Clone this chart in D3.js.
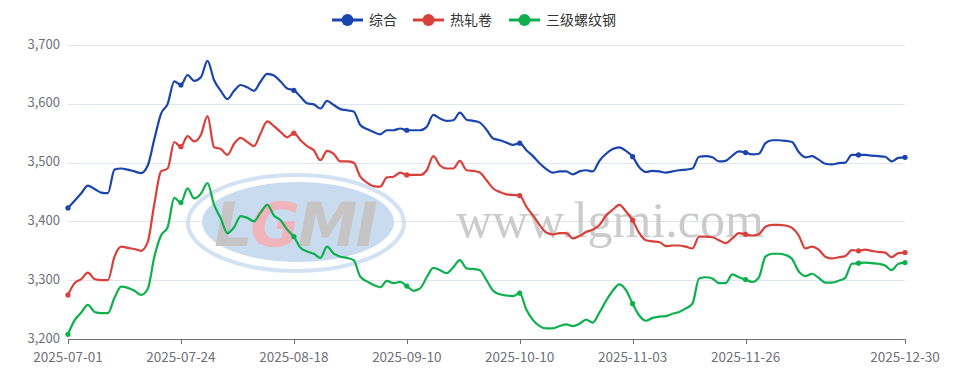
<!DOCTYPE html>
<html><head><meta charset="utf-8">
<script src="https://cdn.jsdelivr.net/npm/d3@7/dist/d3.min.js"></script>
<style>
html,body{margin:0;padding:0;background:#fff;}
svg{display:block;font-family:"Noto Sans CJK SC","Noto Sans",sans-serif;}
</style></head>
<body>
<svg id="chart" width="957" height="369"></svg>
<script>
const dates = [
"2025-07-01","2025-07-02","2025-07-03","2025-07-04","2025-07-07","2025-07-08","2025-07-09","2025-07-10","2025-07-11",
"2025-07-14","2025-07-15","2025-07-16","2025-07-17","2025-07-18","2025-07-21","2025-07-22","2025-07-23","2025-07-24",
"2025-07-25","2025-07-28","2025-07-29","2025-07-30","2025-07-31","2025-08-01","2025-08-04","2025-08-05","2025-08-06",
"2025-08-07","2025-08-08","2025-08-11","2025-08-12","2025-08-13","2025-08-14","2025-08-15","2025-08-18","2025-08-19",
"2025-08-20","2025-08-21","2025-08-22","2025-08-25","2025-08-26","2025-08-27","2025-08-28","2025-08-29","2025-09-01",
"2025-09-02","2025-09-03","2025-09-04","2025-09-05","2025-09-08","2025-09-09","2025-09-10","2025-09-11","2025-09-12",
"2025-09-15","2025-09-16","2025-09-17","2025-09-18","2025-09-19","2025-09-22","2025-09-23","2025-09-24","2025-09-25",
"2025-09-26","2025-09-28","2025-09-29","2025-09-30","2025-10-09","2025-10-10","2025-10-11","2025-10-13","2025-10-14",
"2025-10-15","2025-10-16","2025-10-17","2025-10-20","2025-10-21","2025-10-22","2025-10-23","2025-10-24","2025-10-27",
"2025-10-28","2025-10-29","2025-10-30","2025-10-31","2025-11-03","2025-11-04","2025-11-05","2025-11-06","2025-11-07",
"2025-11-10","2025-11-11","2025-11-12","2025-11-13","2025-11-14","2025-11-17","2025-11-18","2025-11-19","2025-11-20",
"2025-11-21","2025-11-24","2025-11-25","2025-11-26","2025-11-27","2025-11-28","2025-12-01","2025-12-02","2025-12-03",
"2025-12-04","2025-12-05","2025-12-08","2025-12-09","2025-12-10","2025-12-11","2025-12-12","2025-12-15","2025-12-16",
"2025-12-17","2025-12-18","2025-12-19","2025-12-22","2025-12-23","2025-12-24","2025-12-25","2025-12-26","2025-12-29",
"2025-12-30"];

const composite = [
3423,3435,3448,3461,3455,3449,3448,3488,3490,3488,3485,3482,3495,3540,3583,3600,3638,3632,
3649,3639,3645,3673,3640,3622,3608,3622,3632,3628,3622,3638,3651,3648,3638,3626,3623,
3612,3601,3599,3592,3605,3598,3591,3589,3587,3564,3557,3552,3548,3555,3555,3558,3555,
3555,3555,3561,3581,3575,3571,3572,3585,3573,3571,3568,3556,3541,3538,3534,3530,3533,
3521,3511,3499,3489,3483,3485,3485,3480,3485,3487,3485,3503,3515,3523,3526,3520,3510,
3492,3484,3486,3485,3483,3485,3487,3488,3490,3510,3511,3509,3502,3503,3512,3519,3517,
3514,3515,3533,3538,3538,3537,3535,3518,3509,3511,3505,3498,3497,3499,3500,3513,3513,
3513,3512,3511,3510,3502,3508,3509];

const hotRolled = [
3275,3295,3302,3313,3302,3300,3300,3340,3357,3355,3353,3350,3365,3430,3485,3490,3535,3527,
3545,3536,3547,3579,3526,3523,3513,3532,3542,3535,3528,3550,3570,3562,3552,3543,3550,
3538,3528,3521,3504,3520,3515,3502,3502,3500,3476,3466,3460,3459,3475,3476,3483,3479,
3479,3479,3487,3511,3495,3490,3490,3503,3487,3486,3483,3470,3456,3450,3446,3445,3444,
3425,3410,3394,3381,3378,3380,3380,3371,3375,3382,3386,3394,3410,3420,3428,3417,3402,
3380,3368,3366,3365,3358,3359,3359,3357,3354,3374,3374,3373,3368,3363,3371,3380,3378,
3376,3378,3391,3394,3394,3393,3389,3376,3354,3357,3352,3340,3337,3339,3341,3351,3350,
3352,3350,3348,3347,3339,3346,3347];

const rebar = [
3208,3232,3245,3258,3246,3244,3244,3270,3289,3287,3282,3275,3285,3340,3376,3390,3440,3432,
3456,3439,3447,3465,3428,3405,3380,3390,3409,3406,3400,3415,3428,3410,3402,3386,3374,
3355,3349,3345,3338,3357,3345,3340,3338,3334,3306,3298,3292,3288,3299,3295,3297,3290,
3282,3286,3305,3321,3317,3312,3322,3334,3320,3319,3317,3300,3282,3276,3274,3273,3278,
3250,3232,3222,3218,3218,3222,3225,3222,3226,3233,3228,3245,3265,3282,3293,3283,3260,
3240,3231,3236,3238,3239,3243,3246,3252,3260,3303,3305,3303,3295,3295,3310,3305,3301,
3297,3305,3340,3345,3345,3343,3336,3315,3307,3311,3304,3296,3296,3299,3304,3328,3329,
3330,3329,3328,3325,3317,3328,3330];

const seriesNames = ["综合","热轧卷","三级螺纹钢"];
const seriesColors = ["#1a45ad","#d8403a","#0db04c"];
const yTicks = [3200,3300,3400,3500,3600,3700];
const xTickLabels = ["2025-07-01","2025-07-24","2025-08-18","2025-09-10","2025-10-10","2025-11-03","2025-11-26","2025-12-30"];
const watermarkLogo = "LGMI";
const watermarkSite = "www.lgmi.com";

const seriesData = [composite, hotRolled, rebar];

const svg = d3.select("#chart");
const W = 957, H = 369;
const m = {l:68, r:52, t:45, b:30};

const x = d3.scalePoint().domain(dates).range([m.l, W - m.r]);
const y = d3.scaleLinear().domain([3200, 3700]).range([H - m.b, m.t]);

// grid
svg.append("g").selectAll("line").data(yTicks.filter(d => d !== 3200)).join("line")
  .attr("x1", m.l).attr("x2", W - m.r)
  .attr("y1", d => Math.round(y(d)) + 0.5).attr("y2", d => Math.round(y(d)) + 0.5)
  .attr("stroke", "#e0e6f1").attr("stroke-width", 1);

// y axis labels
svg.append("g").selectAll("text").data(yTicks).join("text")
  .attr("x", m.l - 8).attr("y", d => y(d) - 1).attr("dy", "0.35em")
  .attr("text-anchor", "end").attr("font-size", 13).attr("fill", "#6e7079")
  .text(d => d3.format(",")(d));

// watermark
const wm = svg.append("g").attr("class", "watermark");
wm.append("ellipse").attr("cx", 296).attr("cy", 223).attr("rx", 108).attr("ry", 48)
  .attr("fill", "none").attr("stroke", "#d3e2f2").attr("stroke-width", 4);
wm.append("ellipse").attr("cx", 298).attr("cy", 222).attr("rx", 96).attr("ry", 40)
  .attr("fill", "#c8dbef");
wm.append("text").attr("x", 295).attr("y", 246).attr("text-anchor", "middle")
  .attr("font-family", "'DejaVu Sans', sans-serif").attr("font-weight", "bold")
  .attr("font-size", 60).attr("font-style", "italic").attr("letter-spacing", -2)
  .selectAll("tspan").data(watermarkLogo.split("")).join("tspan")
  .attr("fill", (d, i) => i === 1 ? "#f2b4bb" : "#c6c4c4")
  .text(d => d);
wm.append("text").attr("x", 610).attr("y", 237).attr("text-anchor", "middle")
  .attr("font-family", "'Liberation Serif', serif")
  .attr("font-size", 50).attr("fill", "#cbcbcb")
  .text(watermarkSite);

// x axis
const labelIdx = xTickLabels.map(d => dates.indexOf(d));
const dotIdx = dates.map((d, i) => i).filter(i => i % 17 === 0 || i === dates.length - 1);
const xa = svg.append("g");
xa.append("line").attr("x1", m.l).attr("x2", W - m.r)
  .attr("y1", H - m.b + 0.5).attr("y2", H - m.b + 0.5)
  .attr("stroke", "#6e7079").attr("stroke-width", 1);
xa.selectAll("line.tick").data(labelIdx).join("line").attr("class", "tick")
  .attr("x1", i => Math.round(x(dates[i])) + 0.5).attr("x2", i => Math.round(x(dates[i])) + 0.5)
  .attr("y1", H - m.b).attr("y2", H - m.b + 5)
  .attr("stroke", "#6e7079");
xa.selectAll("text").data(labelIdx).join("text")
  .attr("x", i => x(dates[i])).attr("y", H - m.b + 18).attr("dy", "0.35em")
  .attr("text-anchor", "middle").attr("font-size", 13.5).attr("fill", "#6e7079")
  .text(i => dates[i]);

// lines
const line = d3.line().x((d, i) => x(dates[i])).y(d => y(d)).curve(d3.curveMonotoneX);
seriesData.forEach((s, k) => {
  svg.append("path").datum(s).attr("d", line)
    .attr("fill", "none").attr("stroke", seriesColors[k]).attr("stroke-width", 2.2)
    .attr("stroke-linejoin", "round");
  svg.append("g").selectAll("circle").data(dotIdx).join("circle")
    .attr("cx", i => x(dates[i])).attr("cy", i => y(s[i])).attr("r", 2.6)
    .attr("fill", seriesColors[k]);
});

// legend
const legendX = [332, 413, 509];
const lg = svg.append("g");
seriesNames.forEach((n, k) => {
  const g = lg.append("g").attr("transform", `translate(${legendX[k]},20)`);
  g.append("line").attr("x1", 0).attr("x2", 31).attr("y1", 0).attr("y2", 0)
    .attr("stroke", seriesColors[k]).attr("stroke-width", 3);
  g.append("circle").attr("cx", 15.5).attr("cy", 0).attr("r", 6).attr("fill", seriesColors[k]);
  g.append("text").attr("x", 37).attr("y", 0).attr("dy", "0.35em")
    .attr("font-size", 14).attr("fill", "#333").text(n);
});
</script>
</body></html>
